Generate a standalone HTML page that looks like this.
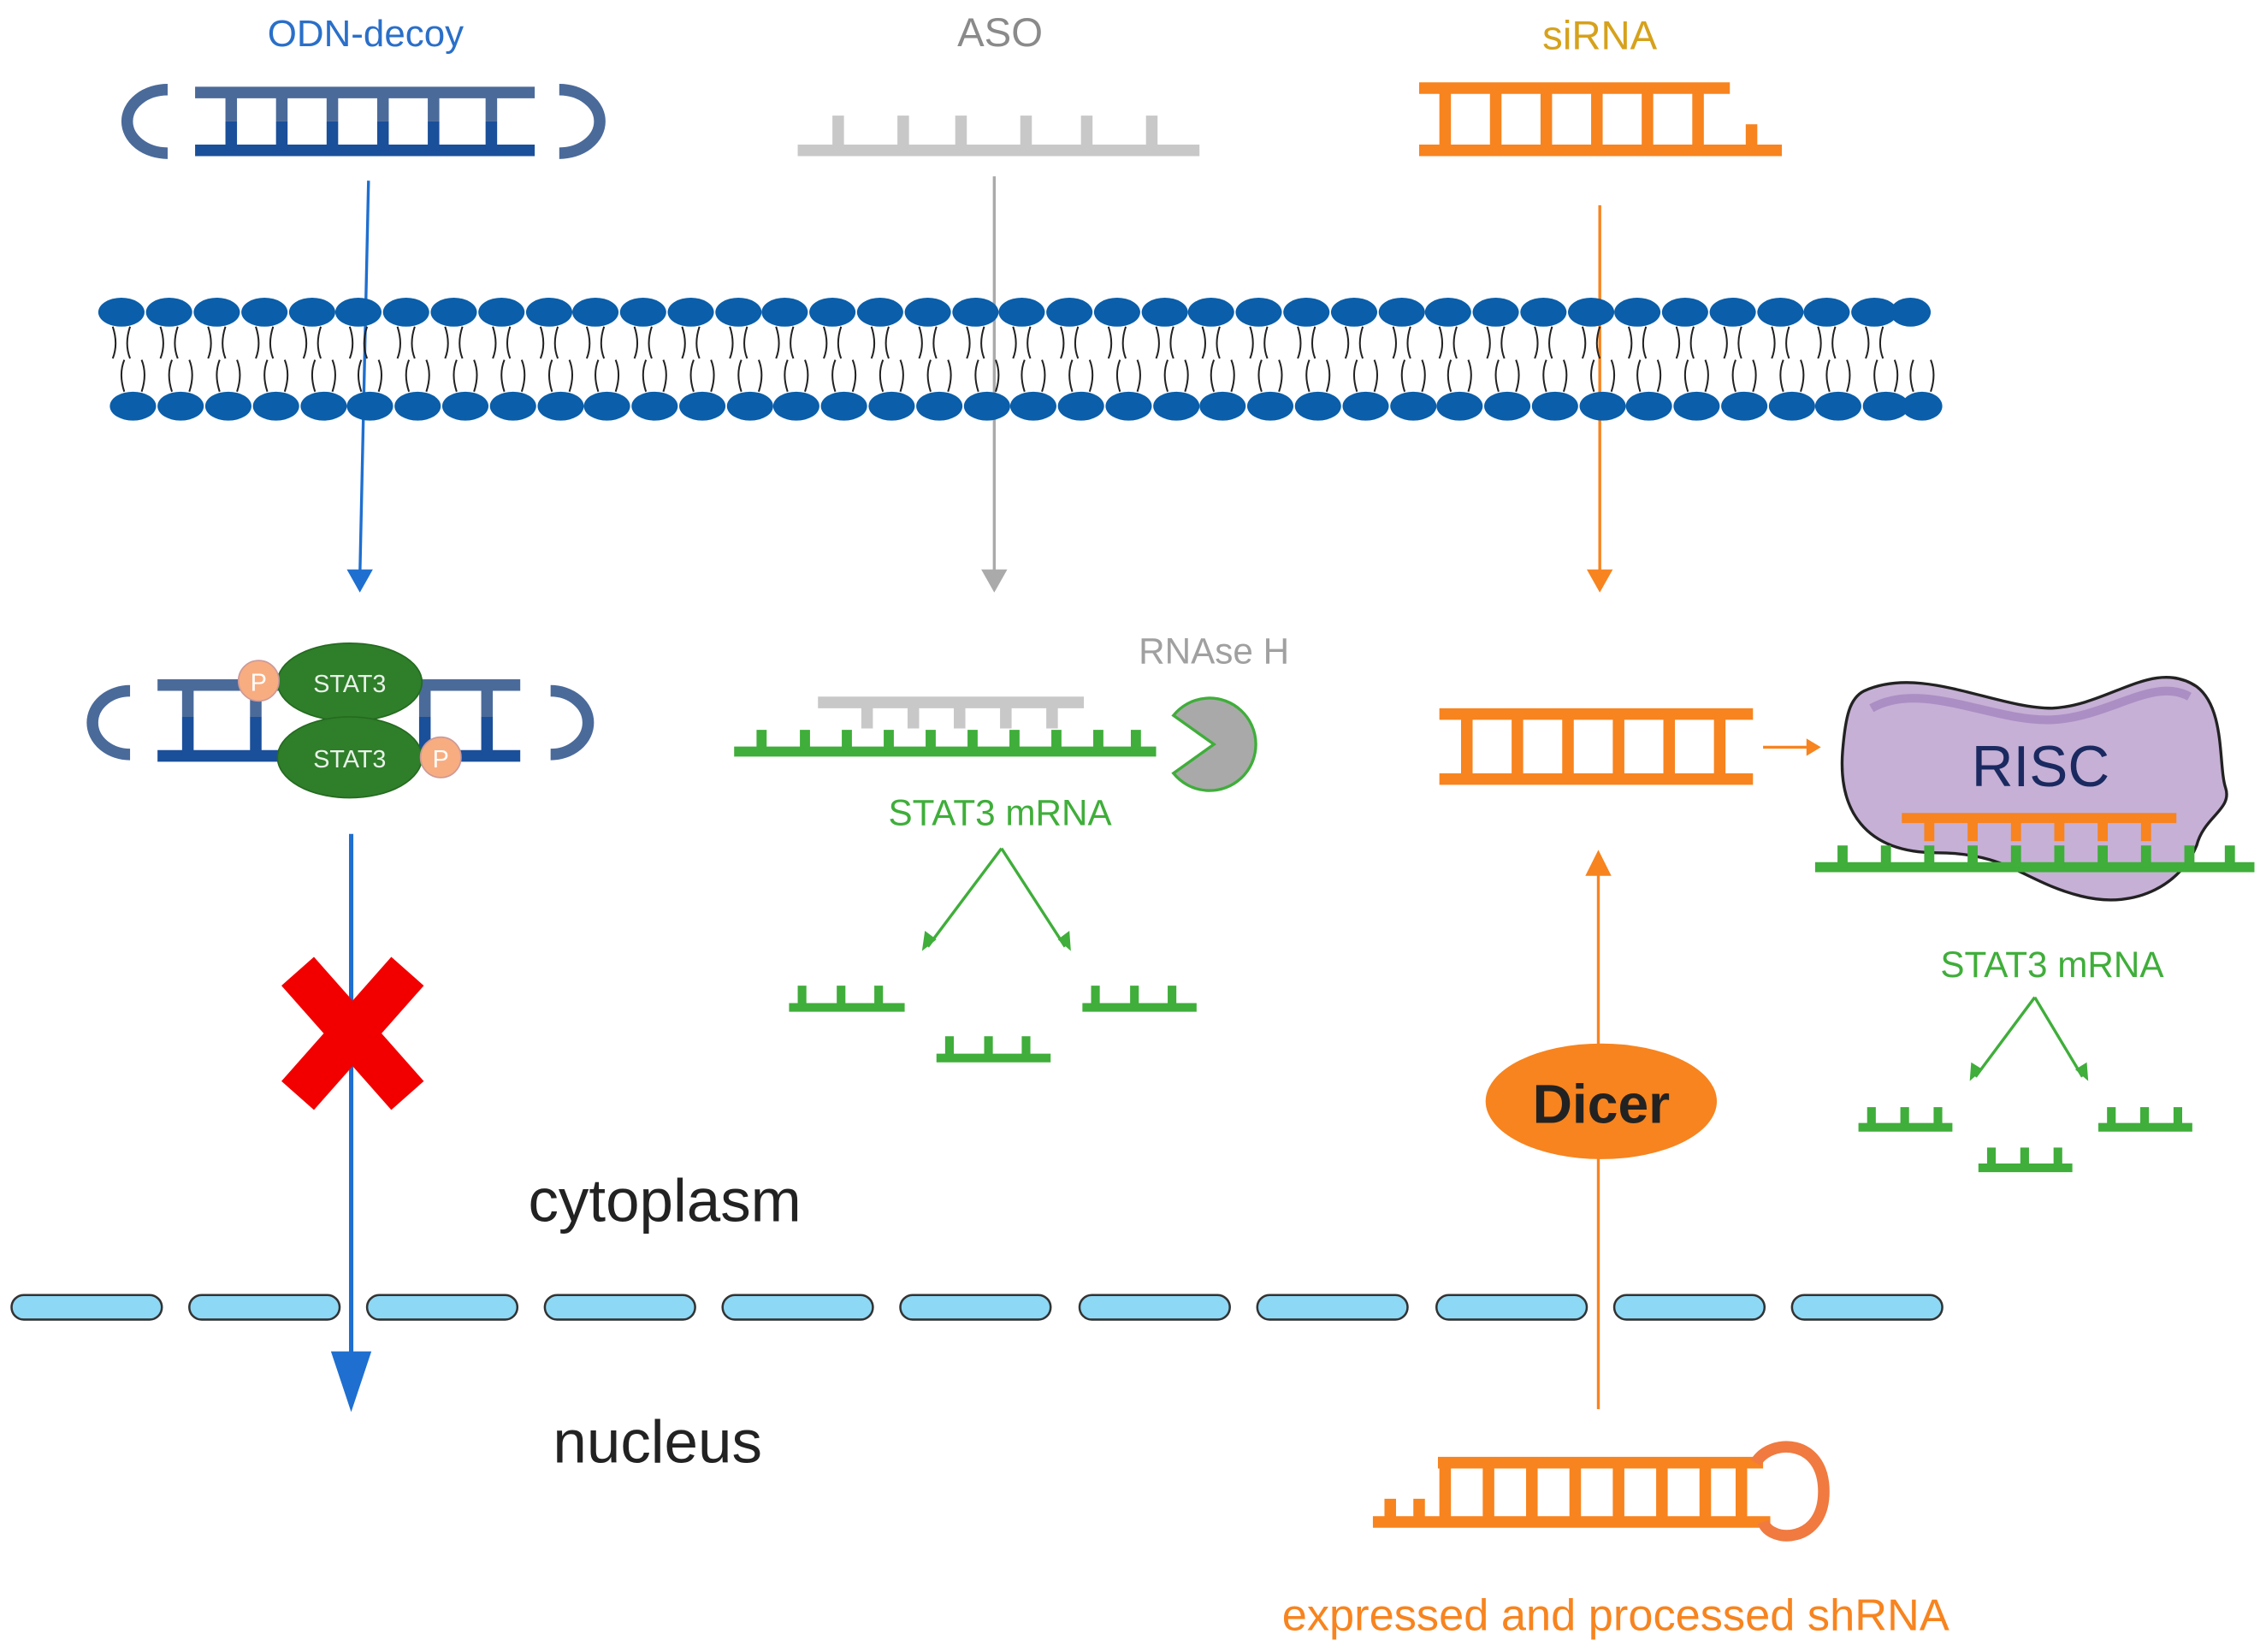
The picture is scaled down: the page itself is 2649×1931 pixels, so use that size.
<!DOCTYPE html>
<html><head><meta charset="utf-8"><style>
html,body{margin:0;padding:0;background:#fff;width:2649px;height:1931px;overflow:hidden}
svg{display:block}
text{font-family:"Liberation Sans",sans-serif}
</style></head><body>
<svg width="2649" height="1931" viewBox="0 0 1568 1143" preserveAspectRatio="none" xmlns="http://www.w3.org/2000/svg">
<!-- titles -->
<text x="253" y="32" font-size="26" fill="#2a6fc9" text-anchor="middle">ODN-decoy</text>
<text x="692" y="32" font-size="28" fill="#8a8a8a" text-anchor="middle">ASO</text>
<text x="1107" y="34" font-size="28" fill="#d6a21c" text-anchor="middle">siRNA</text>

<!-- ODN top -->
<g stroke-width="8" fill="none">
<path d="M116,62 A28,22 0 0 0 116,106" stroke="#4a6a9a"/>
<path d="M387,62 A28,22 0 0 1 387,106" stroke="#4a6a9a"/>
<line x1="135" y1="64" x2="370" y2="64" stroke="#4a6a9a"/>
<line x1="135" y1="104" x2="370" y2="104" stroke="#1a4f9a"/>
<g stroke="#4a6a9a"><path d="M160,64V84M195,64V84M230,64V84M265,64V84M300,64V84M340,64V84"/></g>
<g stroke="#1a4f9a"><path d="M160,84V104M195,84V104M230,84V104M265,84V104M300,84V104M340,84V104"/></g>
</g>
<!-- ASO top -->
<g stroke="#c8c8c8" stroke-width="8" fill="none">
<line x1="552" y1="104" x2="830" y2="104"/>
<path d="M580,80V104M625,80V104M665,80V104M710,80V104M752,80V104M797,80V104"/>
</g>
<!-- siRNA top -->
<g stroke="#f7841f" stroke-width="8" fill="none">
<line x1="982" y1="61" x2="1197" y2="61"/>
<line x1="982" y1="104" x2="1233" y2="104"/>
<path d="M1000,61V104M1035,61V104M1070,61V104M1105,61V104M1140,61V104M1175,61V104M1212,86V104"/>
</g>

<!-- arrows down -->
<line x1="255" y1="125" x2="249" y2="400" stroke="#1e6fd0" stroke-width="2"/>
<path d="M240,394 L258,394 L249,410z" fill="#1e6fd0"/>
<line x1="688" y1="122" x2="688" y2="400" stroke="#aaa" stroke-width="2"/>
<path d="M679,394 L697,394 L688,410z" fill="#aaa"/>
<line x1="1107" y1="142" x2="1107" y2="400" stroke="#f7841f" stroke-width="2"/>
<path d="M1098,394 L1116,394 L1107,410z" fill="#f7841f"/>

<!-- ODN complex -->
<g stroke-width="8" fill="none">
<path d="M90,478 A26,22 0 0 0 90,522" stroke="#4a6a9a"/>
<path d="M381,478 A26,22 0 0 1 381,522" stroke="#4a6a9a"/>
<line x1="109" y1="474" x2="360" y2="474" stroke="#4a6a9a"/>
<line x1="109" y1="523" x2="360" y2="523" stroke="#1a4f9a"/>
<path d="M130,474V496M177,474V496M294,474V496M337,474V496" stroke="#4a6a9a"/>
<path d="M130,496V523M177,496V523M294,496V523M337,496V523" stroke="#1a4f9a"/>
</g>
<ellipse cx="242" cy="472" rx="50" ry="27" fill="#2f7e2a" stroke="#246b20"/>
<ellipse cx="242" cy="524" rx="50" ry="28" fill="#2f7e2a" stroke="#246b20"/>
<text x="242" y="479" font-size="17" fill="#e8f2e8" text-anchor="middle">STAT3</text>
<text x="242" y="531" font-size="17" fill="#e8f2e8" text-anchor="middle">STAT3</text>
<circle cx="179" cy="471" r="14" fill="#f8ad80" stroke="#c99"/>
<text x="179" y="478" font-size="17" fill="#fff" text-anchor="middle">P</text>
<circle cx="305" cy="524" r="14" fill="#f8ad80" stroke="#c99"/>
<text x="305" y="531" font-size="17" fill="#fff" text-anchor="middle">P</text>

<!-- blue big arrow -->
<line x1="243" y1="577" x2="243" y2="945" stroke="#1e6fd0" stroke-width="3"/>
<path d="M229,935 L257,935 L243,977z" fill="#1e6fd0"/>
<!-- red X -->
<g stroke="#f20000" stroke-width="30">
<line x1="206" y1="672" x2="282" y2="758"/><line x1="282" y1="672" x2="206" y2="758"/>
</g>

<!-- ASO complex -->
<g stroke="#c8c8c8" stroke-width="8" fill="none">
<line x1="566" y1="486" x2="750" y2="486"/>
<path d="M600,486V504M632,486V504M664,486V504M696,486V504M728,486V504"/>
</g>
<g stroke="#3fae3a" stroke-width="7" fill="none">
<line x1="508" y1="520" x2="800" y2="520"/>
<path d="M527,505V520M557,505V520M586,505V520M615,505V520M644,505V520M673,505V520M702,505V520M731,505V520M760,505V520M786,505V520"/>
</g>
<path d="M812,495 A32,32 0 1 1 812,535 L840,515 Z" fill="#a9a9a9" stroke="#3fae3a" stroke-width="2"/>
<text x="840" y="459" font-size="25" fill="#a0a0a0" text-anchor="middle">RNAse H</text>
<text x="692" y="571" font-size="25" fill="#3fae3a" text-anchor="middle">STAT3 mRNA</text>
<g stroke="#3fae3a" stroke-width="2" fill="none">
<path d="M693,587 L642,655 M693,587 L737,655"/>
</g>
<path d="M638,658 L640,644 L648,650z M741,658 L732,650 L740,644z" fill="#3fae3a"/>
<g stroke="#3fae3a" stroke-width="6" fill="none">
<path d="M546,697H626M555,682V697M582,682V697M608,682V697"/>
<path d="M749,697H828M758,682V697M785,682V697M811,682V697"/>
<path d="M648,732H727M657,717V732M684,717V732M710,717V732"/>
</g>

<!-- siRNA middle -->
<g stroke="#f7841f" stroke-width="8" fill="none">
<line x1="996" y1="494" x2="1213" y2="494"/>
<line x1="996" y1="539" x2="1213" y2="539"/>
<path d="M1015,494V539M1050,494V539M1085,494V539M1120,494V539M1155,494V539M1190,494V539"/>
</g>
<line x1="1220" y1="517" x2="1252" y2="517" stroke="#f7841f" stroke-width="2"/>
<path d="M1250,511 L1260,517 L1250,523z" fill="#f7841f"/>

<!-- RISC -->
<path d="M1290,478 C1330,460 1380,490 1420,490 C1460,488 1490,455 1520,475 C1540,490 1535,530 1540,545 C1545,560 1525,565 1520,585 C1510,610 1480,630 1440,620 C1400,610 1390,590 1340,590 C1290,590 1272,560 1275,520 C1277,495 1280,483 1290,478 Z" fill="#c6b0d6" stroke="#222" stroke-width="2"/>
<path d="M1295,490 C1330,470 1380,500 1420,498 C1460,496 1490,468 1515,482" fill="none" stroke="#9a78b8" stroke-width="6" opacity="0.6"/>
<text x="1412" y="544" font-size="40" fill="#1a2a60" text-anchor="middle">RISC</text>
<g stroke="#3fae3a" stroke-width="7" fill="none">
<line x1="1256" y1="600" x2="1560" y2="600"/>
<path d="M1275,585V600M1305,585V600M1335,585V600M1365,585V600M1395,585V600M1425,585V600M1455,585V600M1485,585V600M1515,585V600M1543,585V600"/>
</g>
<g stroke="#f7841f" stroke-width="7" fill="none">
<line x1="1316" y1="566" x2="1506" y2="566"/>
<path d="M1335,566V582M1365,566V582M1395,566V582M1425,566V582M1455,566V582M1485,566V582"/>
</g>
<text x="1420" y="676" font-size="25" fill="#3fae3a" text-anchor="middle">STAT3 mRNA</text>
<g stroke="#3fae3a" stroke-width="2" fill="none">
<path d="M1408,690 L1367,745 M1408,690 L1441,745"/>
</g>
<path d="M1363,748 L1364,735 L1372,740z M1445,748 L1436,740 L1444,735z" fill="#3fae3a"/>
<g stroke="#3fae3a" stroke-width="6" fill="none">
<path d="M1286,780H1351M1295,766V780M1318,766V780M1341,766V780"/>
<path d="M1452,780H1517M1461,766V780M1484,766V780M1507,766V780"/>
<path d="M1369,808H1434M1378,794V808M1401,794V808M1424,794V808"/>
</g>

<!-- Dicer -->
<line x1="1106" y1="975" x2="1106" y2="600" stroke="#f7841f" stroke-width="2"/>
<path d="M1097,606 L1115,606 L1106,588z" fill="#f7841f"/>
<ellipse cx="1108" cy="762" rx="80" ry="40" fill="#f7841f"/>
<text x="1108" y="777" font-size="38" font-weight="bold" fill="#222" text-anchor="middle">Dicer</text>

<!-- text -->
<text x="460" y="845" font-size="42" fill="#222" text-anchor="middle">cytoplasm</text>
<text x="455" y="1012" font-size="42" fill="#222" text-anchor="middle">nucleus</text>

<!-- nuclear membrane -->
<g fill="#8cd8f5" stroke="#333" stroke-width="1.5">
<rect x="8" y="896" width="104" height="17" rx="8.5"/>
<rect x="131" y="896" width="104" height="17" rx="8.5"/>
<rect x="254" y="896" width="104" height="17" rx="8.5"/>
<rect x="377" y="896" width="104" height="17" rx="8.5"/>
<rect x="500" y="896" width="104" height="17" rx="8.5"/>
<rect x="623" y="896" width="104" height="17" rx="8.5"/>
<rect x="747" y="896" width="104" height="17" rx="8.5"/>
<rect x="870" y="896" width="104" height="17" rx="8.5"/>
<rect x="994" y="896" width="104" height="17" rx="8.5"/>
<rect x="1117" y="896" width="104" height="17" rx="8.5"/>
<rect x="1240" y="896" width="104" height="17" rx="8.5"/>
</g>

<!-- shRNA -->
<g stroke="#f7841f" stroke-width="8" fill="none">
<line x1="950" y1="1053" x2="1225" y2="1053"/>
<line x1="995" y1="1012" x2="1220" y2="1012"/>
<path d="M1000,1012V1053M1030,1012V1053M1060,1012V1053M1090,1012V1053M1120,1012V1053M1150,1012V1053M1180,1012V1053M1205,1012V1053M962,1037V1053M982,1037V1053"/>
<path d="M1215,1012 C1225,995 1262,995 1262,1032 C1262,1068 1225,1068 1220,1053" stroke="#f07a40"/>
</g>
<text x="1118" y="1128" font-size="31" fill="#f7841f" text-anchor="middle">expressed and processed shRNA</text>

<!-- phospholipid bilayer -->
<g fill="#0a5eaa">
<ellipse cx="84" cy="216" rx="16" ry="10"/><ellipse cx="117" cy="216" rx="16" ry="10"/><ellipse cx="150" cy="216" rx="16" ry="10"/><ellipse cx="183" cy="216" rx="16" ry="10"/><ellipse cx="216" cy="216" rx="16" ry="10"/><ellipse cx="248" cy="216" rx="16" ry="10"/><ellipse cx="281" cy="216" rx="16" ry="10"/><ellipse cx="314" cy="216" rx="16" ry="10"/><ellipse cx="347" cy="216" rx="16" ry="10"/><ellipse cx="380" cy="216" rx="16" ry="10"/><ellipse cx="412" cy="216" rx="16" ry="10"/><ellipse cx="445" cy="216" rx="16" ry="10"/><ellipse cx="478" cy="216" rx="16" ry="10"/><ellipse cx="511" cy="216" rx="16" ry="10"/><ellipse cx="543" cy="216" rx="16" ry="10"/><ellipse cx="576" cy="216" rx="16" ry="10"/><ellipse cx="609" cy="216" rx="16" ry="10"/><ellipse cx="642" cy="216" rx="16" ry="10"/><ellipse cx="675" cy="216" rx="16" ry="10"/><ellipse cx="707" cy="216" rx="16" ry="10"/><ellipse cx="740" cy="216" rx="16" ry="10"/><ellipse cx="773" cy="216" rx="16" ry="10"/><ellipse cx="806" cy="216" rx="16" ry="10"/><ellipse cx="838" cy="216" rx="16" ry="10"/><ellipse cx="871" cy="216" rx="16" ry="10"/><ellipse cx="904" cy="216" rx="16" ry="10"/><ellipse cx="937" cy="216" rx="16" ry="10"/><ellipse cx="970" cy="216" rx="16" ry="10"/><ellipse cx="1002" cy="216" rx="16" ry="10"/><ellipse cx="1035" cy="216" rx="16" ry="10"/><ellipse cx="1068" cy="216" rx="16" ry="10"/><ellipse cx="1101" cy="216" rx="16" ry="10"/><ellipse cx="1133" cy="216" rx="16" ry="10"/><ellipse cx="1166" cy="216" rx="16" ry="10"/><ellipse cx="1199" cy="216" rx="16" ry="10"/><ellipse cx="1232" cy="216" rx="16" ry="10"/><ellipse cx="1264" cy="216" rx="16" ry="10"/><ellipse cx="1297" cy="216" rx="16" ry="10"/><ellipse cx="1322" cy="216" rx="14" ry="10"/>
<ellipse cx="92" cy="281" rx="16" ry="10"/><ellipse cx="125" cy="281" rx="16" ry="10"/><ellipse cx="158" cy="281" rx="16" ry="10"/><ellipse cx="191" cy="281" rx="16" ry="10"/><ellipse cx="224" cy="281" rx="16" ry="10"/><ellipse cx="256" cy="281" rx="16" ry="10"/><ellipse cx="289" cy="281" rx="16" ry="10"/><ellipse cx="322" cy="281" rx="16" ry="10"/><ellipse cx="355" cy="281" rx="16" ry="10"/><ellipse cx="388" cy="281" rx="16" ry="10"/><ellipse cx="420" cy="281" rx="16" ry="10"/><ellipse cx="453" cy="281" rx="16" ry="10"/><ellipse cx="486" cy="281" rx="16" ry="10"/><ellipse cx="519" cy="281" rx="16" ry="10"/><ellipse cx="551" cy="281" rx="16" ry="10"/><ellipse cx="584" cy="281" rx="16" ry="10"/><ellipse cx="617" cy="281" rx="16" ry="10"/><ellipse cx="650" cy="281" rx="16" ry="10"/><ellipse cx="683" cy="281" rx="16" ry="10"/><ellipse cx="715" cy="281" rx="16" ry="10"/><ellipse cx="748" cy="281" rx="16" ry="10"/><ellipse cx="781" cy="281" rx="16" ry="10"/><ellipse cx="814" cy="281" rx="16" ry="10"/><ellipse cx="846" cy="281" rx="16" ry="10"/><ellipse cx="879" cy="281" rx="16" ry="10"/><ellipse cx="912" cy="281" rx="16" ry="10"/><ellipse cx="945" cy="281" rx="16" ry="10"/><ellipse cx="978" cy="281" rx="16" ry="10"/><ellipse cx="1010" cy="281" rx="16" ry="10"/><ellipse cx="1043" cy="281" rx="16" ry="10"/><ellipse cx="1076" cy="281" rx="16" ry="10"/><ellipse cx="1109" cy="281" rx="16" ry="10"/><ellipse cx="1141" cy="281" rx="16" ry="10"/><ellipse cx="1174" cy="281" rx="16" ry="10"/><ellipse cx="1207" cy="281" rx="16" ry="10"/><ellipse cx="1240" cy="281" rx="16" ry="10"/><ellipse cx="1272" cy="281" rx="16" ry="10"/><ellipse cx="1305" cy="281" rx="16" ry="10"/><ellipse cx="1330" cy="281" rx="14" ry="10"/>
</g>
<g stroke="#222" stroke-width="1.2" fill="none">
<path d="M78,226 q4,12 0,22 M90,226 q-4,12 0,22 M111,226 q4,12 0,22 M123,226 q-4,12 0,22 M144,226 q4,12 0,22 M156,226 q-4,12 0,22 M177,226 q4,12 0,22 M189,226 q-4,12 0,22 M210,226 q4,12 0,22 M222,226 q-4,12 0,22 M242,226 q4,12 0,22 M254,226 q-4,12 0,22 M275,226 q4,12 0,22 M287,226 q-4,12 0,22 M308,226 q4,12 0,22 M320,226 q-4,12 0,22 M341,226 q4,12 0,22 M353,226 q-4,12 0,22 M374,226 q4,12 0,22 M386,226 q-4,12 0,22 M406,226 q4,12 0,22 M418,226 q-4,12 0,22 M439,226 q4,12 0,22 M451,226 q-4,12 0,22 M472,226 q4,12 0,22 M484,226 q-4,12 0,22 M505,226 q4,12 0,22 M517,226 q-4,12 0,22 M537,226 q4,12 0,22 M549,226 q-4,12 0,22 M570,226 q4,12 0,22 M582,226 q-4,12 0,22 M603,226 q4,12 0,22 M615,226 q-4,12 0,22 M636,226 q4,12 0,22 M648,226 q-4,12 0,22 M669,226 q4,12 0,22 M681,226 q-4,12 0,22 M701,226 q4,12 0,22 M713,226 q-4,12 0,22 M734,226 q4,12 0,22 M746,226 q-4,12 0,22 M767,226 q4,12 0,22 M779,226 q-4,12 0,22 M800,226 q4,12 0,22 M812,226 q-4,12 0,22 M832,226 q4,12 0,22 M844,226 q-4,12 0,22 M865,226 q4,12 0,22 M877,226 q-4,12 0,22 M898,226 q4,12 0,22 M910,226 q-4,12 0,22 M931,226 q4,12 0,22 M943,226 q-4,12 0,22 M964,226 q4,12 0,22 M976,226 q-4,12 0,22 M996,226 q4,12 0,22 M1008,226 q-4,12 0,22 M1029,226 q4,12 0,22 M1041,226 q-4,12 0,22 M1062,226 q4,12 0,22 M1074,226 q-4,12 0,22 M1095,226 q4,12 0,22 M1107,226 q-4,12 0,22 M1127,226 q4,12 0,22 M1139,226 q-4,12 0,22 M1160,226 q4,12 0,22 M1172,226 q-4,12 0,22 M1193,226 q4,12 0,22 M1205,226 q-4,12 0,22 M1226,226 q4,12 0,22 M1238,226 q-4,12 0,22 M1258,226 q4,12 0,22 M1270,226 q-4,12 0,22 M1291,226 q4,12 0,22 M1303,226 q-4,12 0,22"/>
<path d="M86,271 q-4,-12 0,-22 M98,271 q4,-12 0,-22 M119,271 q-4,-12 0,-22 M131,271 q4,-12 0,-22 M152,271 q-4,-12 0,-22 M164,271 q4,-12 0,-22 M185,271 q-4,-12 0,-22 M197,271 q4,-12 0,-22 M218,271 q-4,-12 0,-22 M230,271 q4,-12 0,-22 M250,271 q-4,-12 0,-22 M262,271 q4,-12 0,-22 M283,271 q-4,-12 0,-22 M295,271 q4,-12 0,-22 M316,271 q-4,-12 0,-22 M328,271 q4,-12 0,-22 M349,271 q-4,-12 0,-22 M361,271 q4,-12 0,-22 M382,271 q-4,-12 0,-22 M394,271 q4,-12 0,-22 M414,271 q-4,-12 0,-22 M426,271 q4,-12 0,-22 M447,271 q-4,-12 0,-22 M459,271 q4,-12 0,-22 M480,271 q-4,-12 0,-22 M492,271 q4,-12 0,-22 M513,271 q-4,-12 0,-22 M525,271 q4,-12 0,-22 M545,271 q-4,-12 0,-22 M557,271 q4,-12 0,-22 M578,271 q-4,-12 0,-22 M590,271 q4,-12 0,-22 M611,271 q-4,-12 0,-22 M623,271 q4,-12 0,-22 M644,271 q-4,-12 0,-22 M656,271 q4,-12 0,-22 M677,271 q-4,-12 0,-22 M689,271 q4,-12 0,-22 M709,271 q-4,-12 0,-22 M721,271 q4,-12 0,-22 M742,271 q-4,-12 0,-22 M754,271 q4,-12 0,-22 M775,271 q-4,-12 0,-22 M787,271 q4,-12 0,-22 M808,271 q-4,-12 0,-22 M820,271 q4,-12 0,-22 M840,271 q-4,-12 0,-22 M852,271 q4,-12 0,-22 M873,271 q-4,-12 0,-22 M885,271 q4,-12 0,-22 M906,271 q-4,-12 0,-22 M918,271 q4,-12 0,-22 M939,271 q-4,-12 0,-22 M951,271 q4,-12 0,-22 M972,271 q-4,-12 0,-22 M984,271 q4,-12 0,-22 M1004,271 q-4,-12 0,-22 M1016,271 q4,-12 0,-22 M1037,271 q-4,-12 0,-22 M1049,271 q4,-12 0,-22 M1070,271 q-4,-12 0,-22 M1082,271 q4,-12 0,-22 M1103,271 q-4,-12 0,-22 M1115,271 q4,-12 0,-22 M1135,271 q-4,-12 0,-22 M1147,271 q4,-12 0,-22 M1168,271 q-4,-12 0,-22 M1180,271 q4,-12 0,-22 M1201,271 q-4,-12 0,-22 M1213,271 q4,-12 0,-22 M1234,271 q-4,-12 0,-22 M1246,271 q4,-12 0,-22 M1266,271 q-4,-12 0,-22 M1278,271 q4,-12 0,-22 M1299,271 q-4,-12 0,-22 M1311,271 q4,-12 0,-22 M1324,271 q-4,-12 0,-22 M1336,271 q4,-12 0,-22"/>
</g>
</svg>
</body></html>
